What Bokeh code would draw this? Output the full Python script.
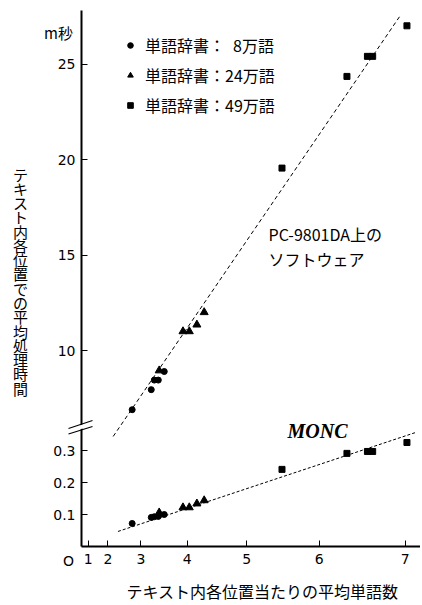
import numpy as np
from bokeh.plotting import figure
from bokeh.models import (Range1d, LinearAxis, FixedTicker, CustomJSTickFormatter,
                          Label, Legend, LegendItem, Arrow)
from bokeh.embed import file_html
from bokeh.resources import INLINE

# ---------------- data ----------------
# average words per text position (x) ; PC software time in ms ; MONC time in ms
circle_x = [2.77, 3.25, 3.32, 3.41, 3.54]          # dictionary: 8万語
circle_ms = [6.9, 7.95, 8.45, 8.45, 8.9]
circle_monc = [0.072, 0.091, 0.093, 0.094, 0.100]

tri_x = [3.43, 3.92, 4.04, 4.18, 4.31]              # dictionary: 24万語
tri_ms = [8.95, 11.0, 11.0, 11.35, 12.0]
tri_monc = [0.106, 0.122, 0.122, 0.134, 0.144]

sq_x = [5.51, 6.34, 6.58, 6.64, 7.02]               # dictionary: 49万語
sq_ms = [19.55, 24.35, 25.4, 25.4, 27.0]
sq_monc = [0.241, 0.291, 0.297, 0.297, 0.325]

fit_ms_x = [2.19, 6.95]
fit_ms_y = [5.5, 27.55]
fit_monc_x = [2.35, 7.11]
fit_monc_y = [0.047, 0.356]

x_ticks = [1, 2, 3, 4, 5, 6, 7]
ms_ticks = [10, 15, 20, 25]
monc_ticks = [0.1, 0.2, 0.3]
legend_labels = ["単語辞書：\u20028万語", "単語辞書：24万語", "単語辞書：49万語"]

# ---------------- canvas / scales ----------------
W, H = 420, 603
AX_X = 81          # pixel column of the vertical axis
AX_Y = 546         # pixel row of the horizontal axis
TOP_Y = 10         # top end of the vertical axis
KX = 6.604         # px per unit of x^2 (the horizontal axis is quadratic)
MS_PX = 19.1       # px per ms (upper panel)
MS_REF, MS_REF_PX = 17.5, 206.75
MONC_PX = 320.0    # px per ms (lower panel)


def px_to_ms(py):
    return MS_REF + (MS_REF_PX - py) / MS_PX


def px_to_monc(py):
    return (AX_Y - py) / MONC_PX


X_LO, X_HI = -AX_X / KX, (W - AX_X) / KX
MS_LO, MS_HI = px_to_ms(H), px_to_ms(0)
MONC_LO, MONC_HI = px_to_monc(H), px_to_monc(0)


def sqx(a):
    return np.asarray(a, dtype=float) ** 2


def monc_to_ms(v):
    return MS_LO + (v - MONC_LO) * (MS_HI - MS_LO) / (MONC_HI - MONC_LO)


p = figure(width=W, height=H, output_backend="svg", toolbar_location=None,
           x_range=Range1d(X_LO, X_HI), y_range=Range1d(MS_LO, MS_HI),
           x_axis_type=None, y_axis_type=None,
           min_border=0, min_border_left=0, min_border_right=0,
           min_border_top=0, min_border_bottom=0)
p.extra_y_ranges = {"monc": Range1d(MONC_LO, MONC_HI)}
p.outline_line_color = None
p.background_fill_color = "white"
p.border_fill_color = "white"

TICK_FONT = "DejaVu Sans"
JP_FONT = "Noto Sans CJK JP"

xaxis = LinearAxis(ticker=FixedTicker(ticks=[float(v * v) for v in x_ticks]),
                   major_label_overrides={v * v: str(v) for v in x_ticks},
                   fixed_location=px_to_ms(AX_Y), bounds=(0, X_HI))
yaxis = LinearAxis(ticker=FixedTicker(ticks=[monc_to_ms(v) for v in monc_ticks] + ms_ticks),
                   formatter=CustomJSTickFormatter(
                       args=dict(S=MS_LO, E=MS_HI, A=MONC_LO, B=MONC_HI),
                       code="if (tick < 6) { return (A + (tick - S) * (B - A) / (E - S)).toFixed(1) } "
                            "return tick.toFixed(0)"),
                   fixed_location=0, bounds=(px_to_ms(AX_Y), px_to_ms(TOP_Y)))
for ax in (xaxis, yaxis):
    ax.axis_line_width = 2
    ax.axis_line_color = "black"
    ax.major_tick_in = 6
    ax.major_tick_out = 0
    ax.major_tick_line_color = "black"
    ax.major_tick_line_width = 1
    ax.minor_tick_line_color = None
    ax.major_label_text_font = TICK_FONT
    ax.major_label_text_font_size = "14px"
    ax.major_label_text_color = "black"
xaxis.major_label_standoff = 7
yaxis.major_label_standoff = 6
p.add_layout(xaxis, "below")
p.add_layout(yaxis, "left")

# fitted lines
p.line(sqx(fit_ms_x), fit_ms_y, line_color="black", line_width=1, line_dash="4 3")
p.line(sqx(fit_monc_x), fit_monc_y, y_range_name="monc", line_color="black",
       line_width=1, line_dash="3 2")

# points
r_c = p.scatter(sqx(circle_x), circle_ms, marker="circle", size=6, color="black")
r_t = p.scatter(sqx(tri_x), tri_ms, marker="triangle", size=8, color="black")
r_s = p.scatter(sqx(sq_x), sq_ms, marker="square", size=6, color="black")
p.scatter(sqx(circle_x), circle_monc, y_range_name="monc", marker="circle", size=6, color="black")
p.scatter(sqx(tri_x), tri_monc, y_range_name="monc", marker="triangle", size=8, color="black")
p.scatter(sqx(sq_x), sq_monc, y_range_name="monc", marker="square", size=6, color="black")

legend = Legend(items=[LegendItem(label=lbl, renderers=[r]) for lbl, r in
                       zip(legend_labels, [r_c, r_t, r_s])],
                location=(123, H - 117), padding=0, margin=0, border_line_color=None,
                background_fill_alpha=0, glyph_width=14, glyph_height=20,
                label_height=20, label_standoff=8, spacing=6,
                label_text_font=JP_FONT, label_text_font_size="16px",
                label_text_color="black")
p.add_layout(legend)


def sy(py):
    return H - py


# axis break marks
p.add_layout(Arrow(end=None, x_start=70, y_start=sy(430.5), x_end=90, y_end=sy(423),
                   start_units="screen", end_units="screen",
                   line_color="white", line_width=4))
for y0, y1 in ((428, 420), (433.5, 426)):
    p.add_layout(Arrow(end=None, x_start=68, y_start=sy(y0), x_end=92, y_end=sy(y1),
                       start_units="screen", end_units="screen",
                       line_color="black", line_width=1.3))


def add_label(text, x, py, size, font=JP_FONT, align="center", baseline="middle", **kw):
    p.add_layout(Label(x=x, y=sy(py), x_units="screen", y_units="screen", text=text,
                       text_font=font, text_font_size=size, text_align=align,
                       text_baseline=baseline, text_color="black", **kw))


add_label("\n".join("テキスト内各位置での平均処理時間"), 20, 163, "15px",
          baseline="top", text_line_height=0.68)
add_label("m秒", 58, 32, "15px")
add_label("O", 68, 560, "14px", font=TICK_FONT)
add_label("テキスト内各位置当たりの平均単語数", 262, 590, "16px")
add_label("PC-9801DA上の", 268, 233, "16px", align="left")
add_label("ソフトウェア", 268, 258, "16px", align="left")
add_label("MONC", 317, 430, "20px", font="Liberation Serif", text_font_style="bold italic")

open("out.html", "w").write(file_html(p, INLINE))
